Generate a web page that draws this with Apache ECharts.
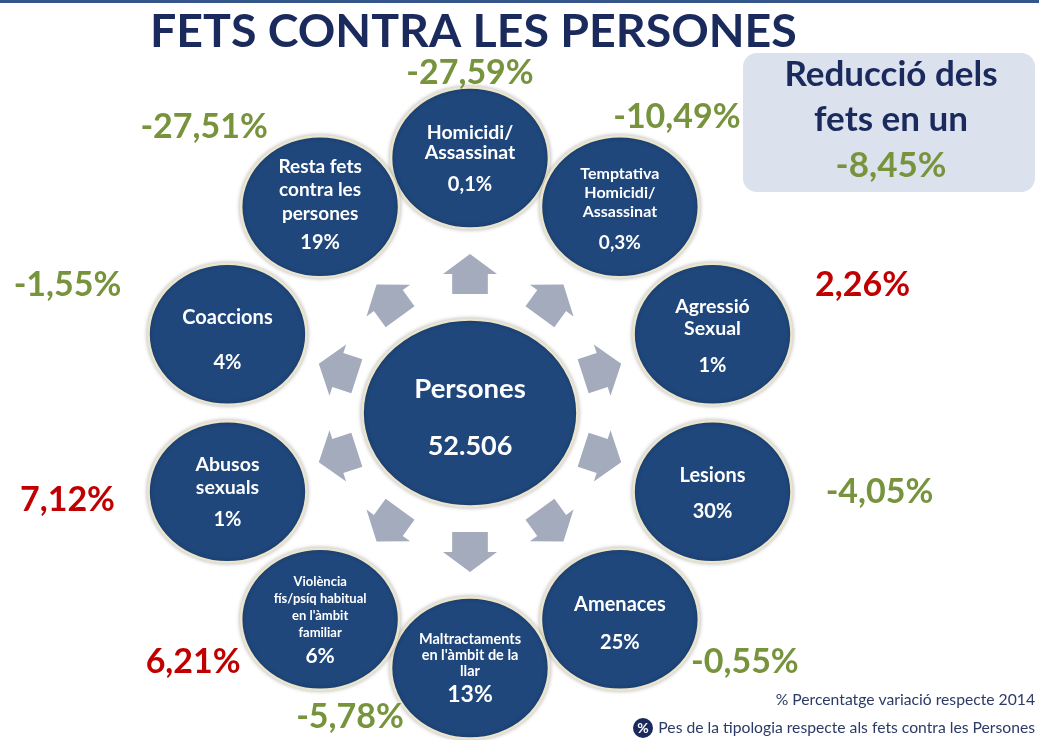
<!DOCTYPE html>
<html>
<head>
<meta charset="utf-8">
<script src="https://cdn.jsdelivr.net/npm/echarts@6/dist/echarts.min.js"></script>
<style>
  html, body { margin: 0; padding: 0; background: #fff; }
  #chart { width: 1039px; height: 740px; }
</style>
</head>
<body>
<div id="chart"></div>
<script>
// dades
const categories = [
  'Homicidi/\nAssassinat',
  'Temptativa\nHomicidi/\nAssassinat',
  'Agressió\nSexual',
  'Lesions',
  'Amenaces',
  'Maltractaments\nen l\'àmbit de la\nllar',
  'Violència\nfís/psíq habitual\nen l\'àmbit\nfamiliar',
  'Abusos\nsexuals',
  'Coaccions',
  'Resta fets\ncontra les\npersones'
]
const pesTipologia = [0.1, 0.3, 1, 30, 25, 13, 6, 1, 4, 19]       // % sobre el total
const variacio = [-27.59, -10.49, 2.26, -4.05, -0.55, -5.78, 6.21, 7.12, -1.55, -27.51] // % vs 2014
const centreNom = 'Persones'
const totalFets = 52506
const variacioTotal = -8.45

// estil / maquetació
const FONT = 'Lato, "Open Sans", sans-serif'
const NAVY = '#1f477c'
const DARK = '#1b2a5c'
const GREEN = '#77933c'
const RED = '#c00000'
const ARROW = '#a4abbd'
const nameSize = [19.5, 16, 19.5, 20, 20, 14.5, 13, 19.5, 20, 19]
const nameLH = [20, 19, 22, 22, 22, 16, 17, 23, 22, 23.5]
const pctSize = [20, 19, 20, 20, 20, 23, 21, 20, 20, 20]
const pctLH = [44, 43, 50, 50, 54, 32, 29, 41, 68, 35]
const textShift = [7, 8, 9, 9, 12, 3, 3, 5, 17, 1]
const varOffset = [[0, -85], [57, -90], [150, -49], [167, 0], [125, 43],
  [-120, 49], [-127, 43], [-160, 8], [-160, -49], [-116, -80]]

const ellipse = 'path://M0,50 A50,50 0 1,1 100,50 A50,50 0 1,1 0,50 Z'
const arrowPath = 'path://M26.5,0 L53,20 L44,20 L44,40 L9,40 L9,20 L0,20 Z'

const fmtNum = v => String(v).replace('.', ',')
const fmtVar = v => v.toFixed(2).replace('.', ',') + '%'
const fmtThousands = v => String(v).replace(/\B(?=(\d{3})+(?!\d))/g, '.')

const step = 360 / categories.length

const chart = echarts.init(document.getElementById('chart'))

const circleStyle = {
  color: NAVY,
  opacity: 1,
  borderColor: '#ebe5cd',
  borderWidth: 2.5,
  shadowBlur: 4,
  shadowColor: 'rgba(0,0,0,0.25)'
}

chart.setOption({
  backgroundColor: '#fff',
  animation: false,
  title: {
    text: 'FETS CONTRA LES PERSONES',
    left: 145,
    top: 3,
    textStyle: {
      fontFamily: FONT,
      fontSize: 46.5,
      fontWeight: 'bold',
      color: DARK
    }
  },
  polar: {
    center: [470, 413],
    radius: 255
  },
  angleAxis: {
    type: 'category',
    data: categories,
    startAngle: 90,
    clockwise: true,
    boundaryGap: false,
    axisLine: { show: false },
    axisTick: { show: false },
    axisLabel: { show: false },
    splitLine: { show: false }
  },
  radiusAxis: {
    type: 'value',
    min: 0,
    max: 1,
    axisLine: { show: false },
    axisTick: { show: false },
    axisLabel: { show: false },
    splitLine: { show: false }
  },
  graphic: [
    {
      type: 'rect',
      shape: { x: 0, y: 0, width: 1039, height: 3 },
      style: { fill: '#34568a' }
    },
    {
      type: 'rect',
      shape: { x: 743, y: 53, width: 292, height: 139, r: 14 },
      style: { fill: '#dbe2ee' }
    },
    {
      type: 'text',
      x: 891, y: 75,
      style: {
        text: 'Reducció dels', fill: DARK, font: 'bold 35px ' + FONT,
        align: 'center', verticalAlign: 'middle'
      }
    },
    {
      type: 'text',
      x: 891, y: 120,
      style: {
        text: 'fets en un', fill: DARK, font: 'bold 35px ' + FONT,
        align: 'center', verticalAlign: 'middle'
      }
    },
    {
      type: 'text',
      x: 891, y: 166,
      style: {
        text: fmtVar(variacioTotal), fill: GREEN, font: 'bold 35px ' + FONT,
        align: 'center', verticalAlign: 'middle'
      }
    },
    {
      type: 'text',
      x: 1035, y: 700,
      style: {
        text: '% Percentatge variació respecte 2014', fill: '#2b3a67',
        font: '15.7px ' + FONT, align: 'right', verticalAlign: 'middle'
      }
    },
    {
      type: 'text',
      x: 1035, y: 728,
      style: {
        text: 'Pes de la tipologia respecte als fets contra les Persones', fill: '#2b3a67',
        font: '15.7px ' + FONT, align: 'right', verticalAlign: 'middle'
      }
    },
    {
      type: 'circle',
      shape: { cx: 643, cy: 728, r: 10 },
      style: { fill: DARK }
    },
    {
      type: 'text',
      x: 643, y: 728,
      style: {
        text: '%', fill: '#fff', font: 'bold 14px ' + FONT,
        align: 'center', verticalAlign: 'middle'
      }
    }
  ],
  series: [
    {
      // fletxes
      type: 'scatter',
      coordinateSystem: 'polar',
      symbol: arrowPath,
      symbolSize: [54, 40],
      itemStyle: { color: ARROW, opacity: 1 },
      silent: true,
      data: categories.map((c, i) => ({
        value: [0.545, c],
        symbolRotate: -i * step
      }))
    },
    {
      // cercles de tipologies
      type: 'scatter',
      coordinateSystem: 'polar',
      symbol: ellipse,
      symbolSize: [158, 141],
      itemStyle: circleStyle,
      data: categories.map((c, i) => ({
        value: [1, c],
        label: {
          show: true,
          position: 'inside',
          offset: [0, textShift[i]],
          formatter: () => `{n|${c}}\n{p|${fmtNum(pesTipologia[i])}%}`,
          rich: {
            n: {
              fontFamily: FONT, fontWeight: 'bold', color: '#fff',
              fontSize: nameSize[i], lineHeight: nameLH[i], align: 'center'
            },
            p: {
              fontFamily: FONT, fontWeight: 'bold', color: '#fff',
              fontSize: pctSize[i], lineHeight: pctLH[i], align: 'center'
            }
          }
        }
      }))
    },
    {
      // cercle central
      type: 'scatter',
      coordinateSystem: 'polar',
      symbol: ellipse,
      symbolSize: [215, 187],
      itemStyle: circleStyle,
      label: {
        show: true,
        position: 'inside',
        offset: [0, 5],
        formatter: () => `{n|${centreNom}}\n{p|${fmtThousands(totalFets)}}`,
        rich: {
          n: { fontFamily: FONT, fontWeight: 'bold', color: '#fff', fontSize: 27.5, lineHeight: 57 },
          p: { fontFamily: FONT, fontWeight: 'bold', color: '#fff', fontSize: 27, lineHeight: 57 }
        }
      },
      data: [{ value: [0, categories[0]] }]
    },
    {
      // variació respecte 2014
      type: 'scatter',
      coordinateSystem: 'polar',
      symbolSize: 1,
      itemStyle: { color: 'transparent', opacity: 1 },
      silent: true,
      data: variacio.map((v, i) => ({
        value: [1, categories[i]],
        label: {
          show: true,
          position: 'inside',
          offset: varOffset[i],
          formatter: fmtVar(v),
          fontFamily: FONT,
          fontWeight: 'bold',
          fontSize: 34,
          color: v < 0 ? GREEN : RED
        }
      }))
    }
  ]
})
</script>
</body>
</html>
